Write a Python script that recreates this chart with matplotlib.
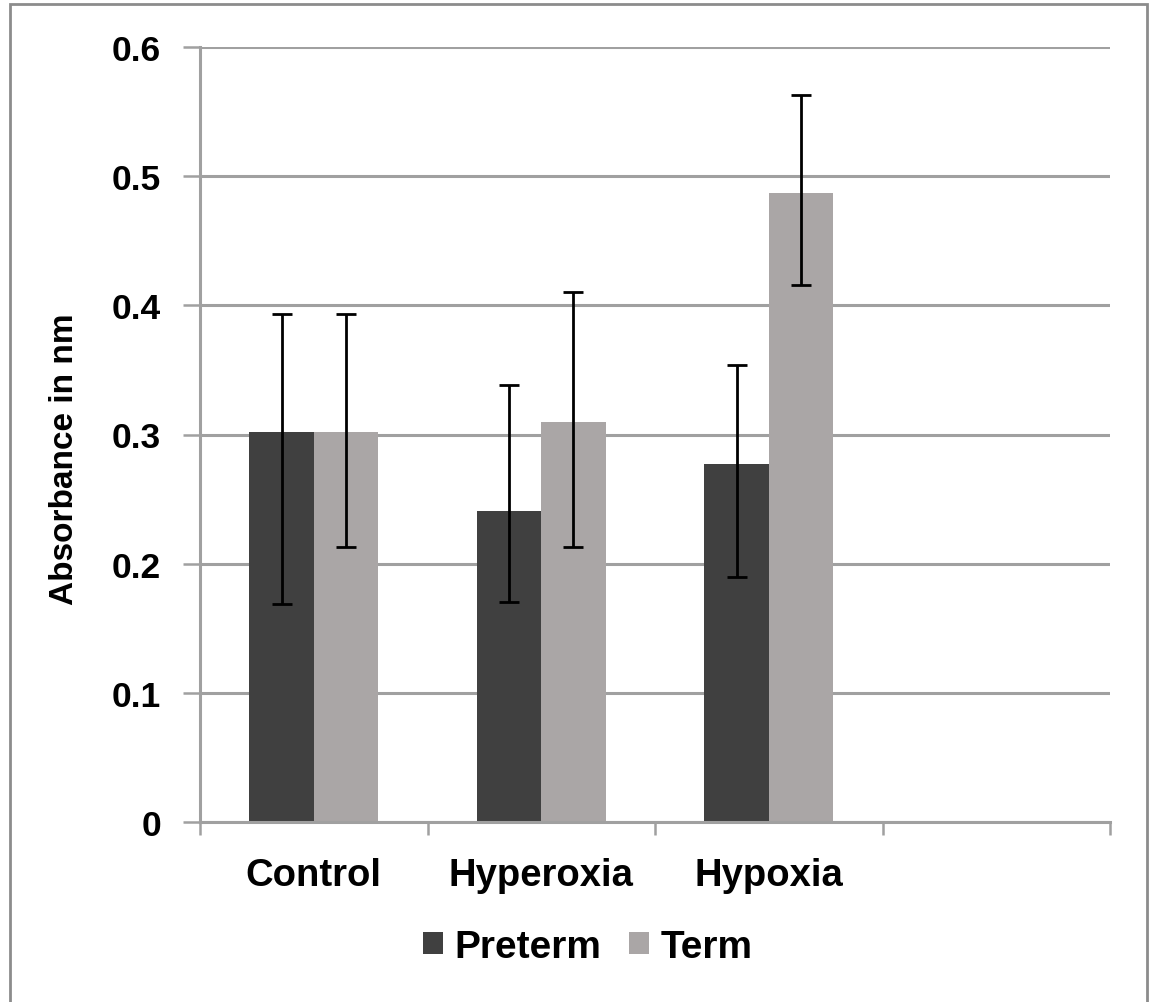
import matplotlib
matplotlib.use("Agg")
import matplotlib.pyplot as plt
from matplotlib.patches import Rectangle
import numpy as np

categories = ["Control", "Hyperoxia", "Hypoxia", ""]
series = ["Preterm", "Term"]
preterm = [0.302, 0.241, 0.277]
term = [0.302, 0.310, 0.487]
preterm_err_low = [0.133, 0.071, 0.087]
preterm_err_high = [0.091, 0.097, 0.077]
term_err_low = [0.089, 0.097, 0.071]
term_err_high = [0.091, 0.100, 0.076]
y_ticks = [0, 0.1, 0.2, 0.3, 0.4, 0.5, 0.6]
y_tick_labels = ["0", "0.1", "0.2", "0.3", "0.4", "0.5", "0.6"]

plt.rcParams['font.family'] = ['Liberation Sans', 'DejaVu Sans']
plt.rcParams['font.weight'] = 'bold'

fig = plt.figure(figsize=(11.5, 10.03), dpi=100)
ax = fig.add_axes([200/1150, 1-823/1003, 910/1150, 775/1003])

c_pre = "#404040"
c_term = "#aaa6a6"
grid_c = "#a0a0a0"
w = 0.283
x = np.arange(len(preterm))

ax.bar(x - w/2, preterm, width=w, color=c_pre, zorder=2, label=series[0])
ax.bar(x + w/2, term, width=w, color=c_term, zorder=2, label=series[1])
ax.errorbar(x - w/2, preterm, yerr=[preterm_err_low, preterm_err_high], fmt='none',
            ecolor='black', elinewidth=2.0, capsize=7, capthick=2.0, zorder=3)
ax.errorbar(x + w/2, term, yerr=[term_err_low, term_err_high], fmt='none',
            ecolor='black', elinewidth=2.0, capsize=7, capthick=2.0, zorder=3)

ax.set_xlim(-0.5, len(categories) - 0.5)
ax.set_ylim(0, 0.6)
ax.set_yticks(y_ticks)
ax.set_yticklabels(y_tick_labels, fontsize=25.5, fontweight='bold')
ax.yaxis.grid(True, color=grid_c, linewidth=2.2, zorder=0)
ax.set_axisbelow(True)

ax.set_xticks(np.arange(len(categories)))
ax.set_xticklabels(categories, fontsize=27.5, fontweight='bold')
ax.set_xticks(np.arange(len(categories) + 1) - 0.5, minor=True)
ax.tick_params(axis='x', which='major', length=0, pad=25)
ax.tick_params(axis='x', which='minor', length=9, width=1.8, color=grid_c, direction='out')
ax.tick_params(axis='y', length=12, width=1.8, color=grid_c, pad=16)

for s in ['top', 'right']:
    ax.spines[s].set_visible(False)
for s in ['left', 'bottom']:
    ax.spines[s].set_color(grid_c)
    ax.spines[s].set_linewidth(2.2)

ax.set_ylabel("Absorbance in nm", fontsize=24, fontweight='bold')
ax.yaxis.set_label_coords((80 - 200) / 910, (823 - 459) / 775)

leg = fig.legend(loc='center', bbox_to_anchor=(588/1150, 1-948/1003), ncol=2,
                 frameon=False, fontsize=28, handlelength=0.5, handleheight=0.5,
                 handletextpad=0.3, columnspacing=0.72)

fig.patches.append(Rectangle((10/1150, -0.05), 1137/1150, 1.05 - 5/1003,
                             transform=fig.transFigure, fill=False,
                             edgecolor="#8c8c8c", linewidth=2))

fig.savefig("out.png", dpi=100)
